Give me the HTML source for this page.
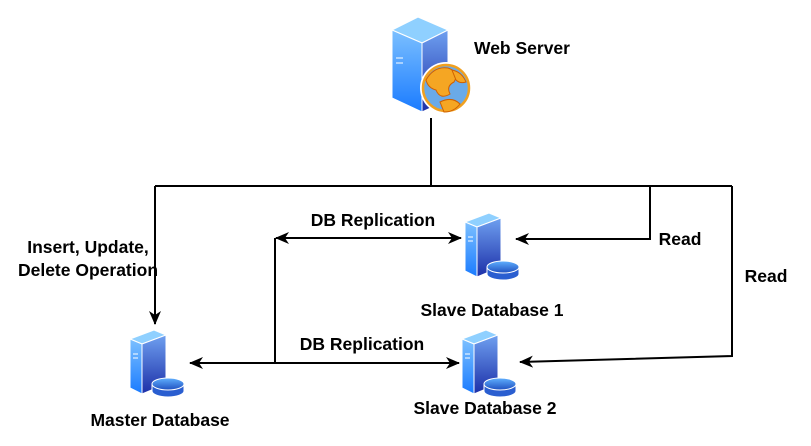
<!DOCTYPE html>
<html><head><style>body{margin:0;background:#fff}svg{display:block}text{font-family:"Liberation Sans",sans-serif;font-weight:bold;font-size:17.5px;fill:#000}</style></head>
<body>
<svg width="811" height="446" viewBox="0 0 811 446">
<defs>
<linearGradient id="f" x1="0" y1="0" x2="0" y2="1"><stop offset="0" stop-color="#7cc0ff"/><stop offset="1" stop-color="#1a7bff"/></linearGradient>
<linearGradient id="s" x1="0" y1="0" x2="0" y2="1"><stop offset="0" stop-color="#6fa0f0"/><stop offset="1" stop-color="#1c2fa8"/></linearGradient>
<linearGradient id="d" x1="0" y1="0" x2="0" y2="1"><stop offset="0" stop-color="#60b0ff"/><stop offset="1" stop-color="#2050c0"/></linearGradient>
<g id="db">
<polygon points="0,9 24,0 36,5 12,14" fill="#8fd0ff" stroke="#fff" stroke-width="1"/>
<polygon points="0,9 12,14 12,64 0,58" fill="url(#f)" stroke="#fff" stroke-width="1"/>
<polygon points="12,14 36,5 36,54 12,64" fill="url(#s)" stroke="#fff" stroke-width="1"/>
<line x1="3" y1="24" x2="8" y2="24" stroke="#fff"/><line x1="3" y1="28" x2="8" y2="28" stroke="#fff"/>
<path d="M22,54 v7 a16,6 0 0 0 32,0 v-7 z" fill="#2a5ed0" stroke="#fff"/>
<ellipse cx="38" cy="54" rx="16" ry="6" fill="url(#d)" stroke="#fff"/>
</g>
<marker id="a" markerWidth="14" markerHeight="12" refX="13" refY="6" orient="auto" markerUnits="userSpaceOnUse"><path d="M0,0 L14,6 L0,12 L4,6z" fill="#000"/></marker>
</defs>
<!-- web server -->
<polygon points="392,30 418,17 448,30 422,43" fill="#8fd0ff" stroke="#fff"/>
<polygon points="392,30 422,43 422,112 392,98" fill="url(#f)" stroke="#fff"/>
<polygon points="422,43 448,30 448,100 422,112" fill="url(#s)" stroke="#fff"/>
<line x1="396" y1="58" x2="403" y2="58" stroke="#fff"/><line x1="396" y1="63" x2="403" y2="63" stroke="#fff"/>
<circle cx="446" cy="88" r="26" fill="#fff"/>
<circle cx="446" cy="88" r="23" fill="#6aaae8" stroke="#f0a020" stroke-width="2.5"/>
<path d="M426,80 q8,-14 22,-12 q12,4 6,14 q-8,4 -4,12 q-10,6 -14,-4 q-8,-2 -10,-10z" fill="#f5a623" stroke="#d06000"/>
<path d="M440,102 q12,-6 20,2 q-6,8 -16,8z" fill="#f5a623" stroke="#d06000"/>
<path d="M452,70 q10,2 14,12 q-6,2 -10,-2z" fill="#f5a623" stroke="#d06000"/>
<text x="474" y="54">Web Server</text>
<!-- connectors -->
<g stroke="#000" stroke-width="2" fill="none">
<polyline points="431,118 431,186"/>
<polyline points="155,186 732,186"/>
<polyline points="155,186 155,324" marker-end="url(#a)"/>
<polyline points="650,186 650,239 516,239" marker-end="url(#a)"/>
<polyline points="732,186 732,356 520,362" marker-end="url(#a)"/>
<line x1="275" y1="238" x2="275" y2="363"/>
<line x1="290" y1="238" x2="461" y2="238" marker-end="url(#a)"/>
<line x1="290" y1="238" x2="276" y2="238" marker-end="url(#a)"/>
<line x1="290" y1="363" x2="459" y2="363" marker-end="url(#a)"/>
<line x1="290" y1="363" x2="190" y2="363" marker-end="url(#a)"/>
</g>
<use href="#db" x="130" y="330"/>
<use href="#db" x="465" y="213"/>
<use href="#db" x="462" y="330"/>
<text x="373" y="226" text-anchor="middle">DB Replication</text>
<text x="362" y="350" text-anchor="middle">DB Replication</text>
<text x="88" y="253" text-anchor="middle">Insert, Update,</text>
<text x="88" y="276" text-anchor="middle">Delete Operation</text>
<text x="680" y="245" text-anchor="middle">Read</text>
<text x="766" y="282" text-anchor="middle">Read</text>
<text x="492" y="316" text-anchor="middle">Slave Database 1</text>
<text x="485" y="414" text-anchor="middle">Slave Database 2</text>
<text x="160" y="426" text-anchor="middle">Master Database</text>
</svg>
</body></html>
